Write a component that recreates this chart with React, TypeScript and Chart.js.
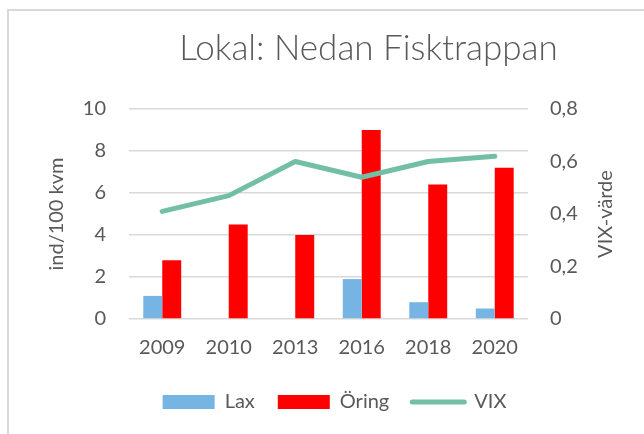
import React, { useEffect, useRef } from "react";
import { Chart, registerables } from "chart.js";

Chart.register(...registerables);

const categories = ["2009", "2010", "2013", "2016", "2018", "2020"];
const laxValues = [1.1, null, null, 1.9, 0.8, 0.5];
const oringValues = [2.8, 4.5, 4.0, 9.0, 6.4, 7.2];
const vixValues = [0.41, 0.47, 0.6, 0.54, 0.6, 0.62];
const titleText = "Lokal: Nedan Fisktrappan";
const leftAxisTitle = "ind/100 kvm";
const rightAxisTitle = "VIX-värde";

const FONT = "Lato, 'Open Sans', sans-serif";
const GRAY = "#595959";
const LAX = "#75B4E3";
const ORING = "#FF0000";
const VIX = "#72BFA3";

const textPlugin = {
  id: "textPlugin",
  afterDraw(chart: any) {
    const ctx = chart.ctx;
    const area = chart.chartArea;
    ctx.save();
    ctx.fillStyle = GRAY;
    ctx.font = `300 35px ${FONT}`;
    ctx.textAlign = "center";
    ctx.textBaseline = "middle";
    ctx.fillText(titleText, (area.left + area.right) / 2 + 40, 49);
    ctx.font = `20px ${FONT}`;
    ctx.translate(606, (area.top + area.bottom) / 2);
    ctx.rotate(-Math.PI / 2);
    ctx.fillText(rightAxisTitle, 0, 0);
    ctx.restore();
  },
};

export default function App() {
  const ref = useRef<HTMLCanvasElement | null>(null);
  useEffect(() => {
    if (!ref.current) return;
    const chart = new Chart(ref.current, {
      data: {
        labels: categories,
        datasets: [
          {
            type: "line",
            label: "VIX",
            data: vixValues,
            yAxisID: "y1",
            borderColor: VIX,
            backgroundColor: VIX,
            borderWidth: 5,
            pointRadius: 0,
            borderCapStyle: "round",
            borderJoinStyle: "round",
            order: 0,
          },
          {
            type: "bar",
            label: "Lax",
            data: laxValues,
            yAxisID: "y",
            backgroundColor: LAX,
            order: 1,
          },
          {
            type: "bar",
            label: "Öring",
            data: oringValues,
            yAxisID: "y",
            backgroundColor: ORING,
            order: 1,
          },
        ],
      } as any,
      options: {
        animation: false,
        responsive: false,
        maintainAspectRatio: false,
        layout: { padding: { top: 109, bottom: 12, left: 25, right: 0 } },
        datasets: { bar: { categoryPercentage: 0.57, barPercentage: 1 } },
        plugins: {
          title: { display: false },
          tooltip: { enabled: false },
          legend: {
            position: "bottom",
            labels: {
              color: GRAY,
              font: { family: FONT, size: 20 },
              boxWidth: 52,
              boxHeight: 14,
              usePointStyle: true,
              pointStyleWidth: 52,
              padding: 23,
              sort: (a: any, b: any) => {
                const orderMap: any = { Lax: 0, "Öring": 1, VIX: 2 };
                return orderMap[a.text] - orderMap[b.text];
              },
              generateLabels: (c: any) =>
                c.data.datasets.map((ds: any, i: number) => {
                  const isLine = ds.type === "line";
                  return {
                    text: ds.label,
                    datasetIndex: i,
                    fillStyle: ds.backgroundColor,
                    strokeStyle: ds.borderColor || ds.backgroundColor,
                    lineWidth: isLine ? 5 : 0,
                    lineCap: "round",
                    pointStyle: isLine ? "line" : "rect",
                    fontColor: GRAY,
                    hidden: false,
                  };
                }),
            },
          },
        },
        scales: {
          x: {
            grid: { display: false },
            border: { display: false },
            ticks: { color: GRAY, font: { family: FONT, size: 20 }, padding: 9 },
          },
          y: {
            position: "left",
            min: 0,
            max: 10,
            ticks: { stepSize: 2, color: GRAY, font: { family: FONT, size: 20 }, padding: 23 },
            grid: { color: "#D9D9D9", lineWidth: 1.5, drawTicks: false },
            border: { display: false },
            title: {
              display: true,
              text: leftAxisTitle,
              color: GRAY,
              font: { family: FONT, size: 20 },
              padding: { top: 20, bottom: 0 },
            },
            afterFit: (s: any) => {
              s.width = 104;
            },
          },
          y1: {
            position: "right",
            min: 0,
            max: 0.8,
            ticks: {
              stepSize: 0.2,
              color: GRAY,
              font: { family: FONT, size: 20 },
              padding: 22,
              callback: (v: any) => (v === 0 ? "0" : Number(v).toFixed(1).replace(".", ",")),
            },
            grid: { display: false, drawTicks: false },
            border: { display: false },
            afterFit: (s: any) => {
              s.width = 116;
            },
          },
        },
      } as any,
      plugins: [textPlugin],
    });
    return () => chart.destroy();
  }, []);

  return (
    <div style={{ position: "absolute", left: 0, top: 0, width: 644, height: 434, overflow: "hidden", background: "#fff" }}>
      <div
        style={{
          position: "absolute",
          left: 7,
          top: 9,
          width: 700,
          height: 500,
          border: "2px solid #D9D9D9",
        }}
      />
      <canvas ref={ref} width={644} height={434} style={{ position: "absolute", left: 0, top: 0 }} />
    </div>
  );
}
